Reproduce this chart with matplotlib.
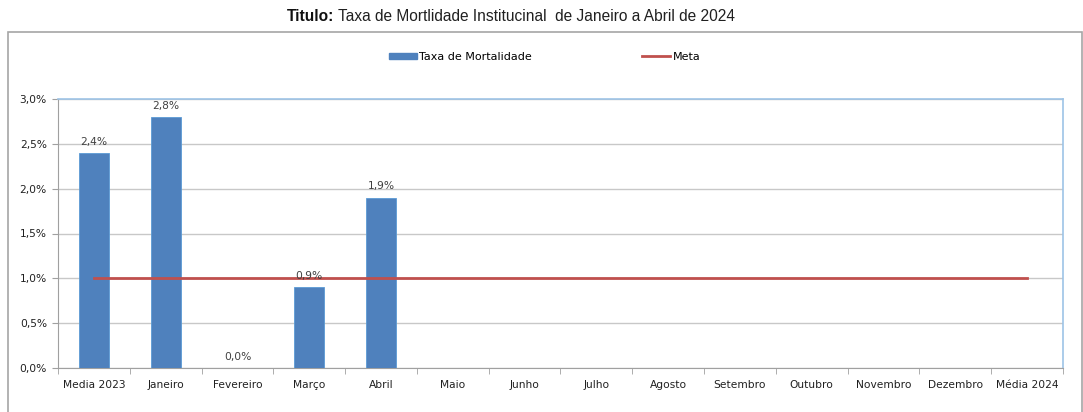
import matplotlib.pyplot as plt
from matplotlib.patches import Rectangle
from matplotlib.lines import Line2D
from matplotlib.ticker import FuncFormatter, FixedLocator
import numpy as np

# dados do gráfico
meses = [
    "Media 2023", "Janeiro", "Fevereiro", "Março", "Abril", "Maio", "Junho",
    "Julho", "Agosto", "Setembro", "Outubro", "Novembro", "Dezembro", "Média 2024",
]
taxa = [2.4, 2.8, 0.0, 0.9, 1.9]  # % (somente meses com valor)
rotulos = ["2,4%", "2,8%", "0,0%", "0,9%", "1,9%"]
meta = [1.0] * len(meses)

BLUE = "#4F81BD"
RED = "#C0504D"
EDGE = "#9DC3E6"
FS = 7.7

plt.rcParams["font.family"] = ["DejaVu Sans"]

fig = plt.figure(figsize=(10.83, 4.12), dpi=100)
ax = fig.add_axes([58 / 1083, 44 / 412, 1005 / 1083, 269 / 412])

x = np.arange(len(meses))
ax.bar(x[: len(taxa)], taxa, width=0.42, color=BLUE, edgecolor="#5B9BD5",
       linewidth=0.6, zorder=3, label="Taxa de Mortalidade")
ax.plot(x, meta, color=RED, linewidth=2, zorder=4, label="Meta")

for xi, v, lab in zip(x, taxa, rotulos):
    ax.text(xi, v + 0.07, lab, ha="center", va="bottom", fontsize=FS,
            color="#404040", zorder=5)

ax.set_xlim(-0.5, len(meses) - 0.5)
ax.set_ylim(0, 3.0)
ax.set_yticks(np.arange(0, 3.01, 0.5))
ax.yaxis.set_major_formatter(FuncFormatter(lambda v, _: f"{v:.1f}%".replace(".", ",")))
ax.set_xticks(x)
ax.set_xticklabels(meses)
ax.xaxis.set_minor_locator(FixedLocator(np.arange(-0.5, len(meses), 1.0)))
ax.tick_params(axis="x", which="major", length=0, labelsize=FS, pad=9)
ax.tick_params(axis="x", which="minor", length=4, color="#A0A0A0")
ax.tick_params(axis="y", length=4, color="#A0A0A0", labelsize=FS, pad=4)
for t in ax.get_yticklabels() + ax.get_xticklabels():
    t.set_color("#202020")

ax.grid(axis="y", color="#C8C8C8", linewidth=1, zorder=0)
ax.spines["left"].set_color("#A0A0A0")
ax.spines["bottom"].set_color("#A0A0A0")
ax.spines["top"].set_color(EDGE)
ax.spines["right"].set_color(EDGE)
ax.spines["top"].set_linewidth(1.2)
ax.spines["right"].set_linewidth(1.2)

# moldura externa
fig.patches.append(Rectangle((8 / 1083, -0.05), 1074 / 1083, (412 - 32) / 412 + 0.05,
                             transform=fig.transFigure, fill=False,
                             edgecolor="#A6A6A6", linewidth=1.2))

# título: parte em negrito + resto normal
t1 = fig.text(287 / 1083, 0.961, "Titulo:", ha="left", va="center", fontsize=11.2,
              fontweight="bold", family="Liberation Sans", color="#101010")
fig.canvas.draw()
ax.annotate(" Taxa de Mortlidade Institucinal  de Janeiro a Abril de 2024",
            xy=(1, 0.5), xycoords=t1, ha="left", va="center", fontsize=11.2,
            family="Liberation Sans", color="#202020")

handles = [Rectangle((0, 0), 1, 1, color=BLUE),
           Line2D([], [], color=RED, linewidth=2)]
fig.legend(handles, ["Taxa de Mortalidade", "Meta"], loc="center",
           bbox_to_anchor=(0.503, 0.862), ncol=2, frameon=False, fontsize=8,
           handlelength=2.5, handleheight=0.55, handletextpad=0.25, columnspacing=9.9)

fig.savefig("out.png", dpi=100)
